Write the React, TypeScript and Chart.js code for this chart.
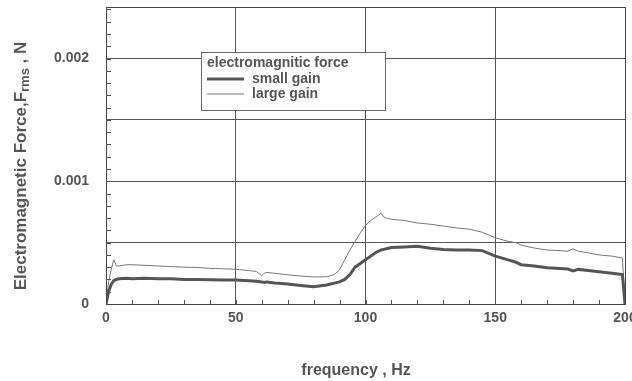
import React, { useEffect, useRef } from "react";
import { Chart, registerables } from "chart.js";

Chart.register(...registerables);

const FREQ = [0, 1, 2, 3, 4, 5, 8, 10, 15, 20, 25, 30, 35, 40, 45, 50, 55, 58, 60, 61, 62, 65, 70, 75, 80, 85, 88, 90, 92, 94, 96, 98, 100, 102, 104, 106, 107, 108, 110, 115, 120, 125, 130, 135, 140, 145, 150, 155, 158, 160, 165, 170, 175, 178, 180, 182, 185, 190, 195, 199, 200];

const SMALL_GAIN = [0, 0.0001, 0.00016, 0.00019, 0.0002, 0.000205, 0.00021, 0.000205, 0.00021, 0.000205, 0.000205, 0.0002, 0.0002, 0.000198, 0.000195, 0.000195, 0.00019, 0.000185, 0.00018, 0.000175, 0.00018, 0.000172, 0.000162, 0.00015, 0.00014, 0.000155, 0.00017, 0.00018, 0.0002, 0.00024, 0.0003, 0.00033, 0.00036, 0.00039, 0.00042, 0.00044, 0.000445, 0.00045, 0.00046, 0.000465, 0.00047, 0.000455, 0.000445, 0.00044, 0.00044, 0.000435, 0.00039, 0.00036, 0.00034, 0.00032, 0.00031, 0.000295, 0.00029, 0.000285, 0.00027, 0.000282, 0.000275, 0.000262, 0.00025, 0.00024, 0];

const LARGE_GAIN = [0, 0.00018, 0.00028, 0.00036, 0.00031, 0.00031, 0.00032, 0.00032, 0.000315, 0.00031, 0.000305, 0.0003, 0.000298, 0.00029, 0.000287, 0.000283, 0.000272, 0.000265, 0.00023, 0.00025, 0.000257, 0.00025, 0.000238, 0.000228, 0.00022, 0.000222, 0.00024, 0.00028, 0.00036, 0.00044, 0.00051, 0.00058, 0.00064, 0.00068, 0.00071, 0.00074, 0.00071, 0.0007, 0.00069, 0.00068, 0.00066, 0.00065, 0.000635, 0.00062, 0.00061, 0.000585, 0.00054, 0.00051, 0.0005, 0.00048, 0.000456, 0.00044, 0.000435, 0.00043, 0.00045, 0.00043, 0.00042, 0.0004, 0.00039, 0.000375, 0];

const X_TICK_LABELS = [0, 50, 100, 150, 200];
const Y_TICK_LABELS = [0, 0.001, 0.002];
const SERIES_NAMES = ["small gain", "large gain"];
const LEGEND_TITLE = "electromagnitic force";
const X_TITLE = "frequency , Hz";
const Y_TITLE_PARTS = ["Electromagnetic Force,F", "rms", " , N"];

const TEXT = "#555";
const FONT = "'Liberation Sans', Arial, sans-serif";

const near = (a: number, b: number) => Math.abs(a - b) < 1e-9;

const decorPlugin = {
  id: "decor",
  afterDraw(chart: any) {
    const { ctx, chartArea } = chart;
    const { left, right, top, bottom } = chartArea;
    const xs = chart.scales.x;
    const ys = chart.scales.y;
    ctx.save();
    // frame
    ctx.strokeStyle = "#444";
    ctx.lineWidth = 1;
    ctx.strokeRect(Math.round(left) + 0.5, Math.round(top) + 0.5, Math.round(right - left), Math.round(bottom - top));
    // minor ticks
    ctx.strokeStyle = "#555";
    ctx.beginPath();
    for (let f = 10; f < 200; f += 10) {
      const px = Math.round(xs.getPixelForValue(f)) + 0.5;
      ctx.moveTo(px, bottom);
      ctx.lineTo(px, bottom - 4);
    }
    for (let i = 1; i < 25; i++) {
      const py = Math.round(ys.getPixelForValue(i * 0.0001)) + 0.5;
      if (py < top) continue;
      ctx.moveTo(left, py);
      ctx.lineTo(left + 5, py);
    }
    ctx.stroke();

    // legend
    const bx = 201, by = 52, bw = 184, bh = 58;
    ctx.fillStyle = "#fff";
    ctx.fillRect(bx, by, bw, bh);
    ctx.strokeStyle = "#666";
    ctx.lineWidth = 1;
    ctx.strokeRect(bx + 0.5, by + 0.5, bw, bh);
    ctx.fillStyle = TEXT;
    ctx.font = `bold 14px ${FONT}`;
    ctx.textBaseline = "middle";
    ctx.textAlign = "left";
    ctx.fillText(LEGEND_TITLE, 207, 63);
    const ds = chart.data.datasets;
    const rows = [79, 94];
    ds.forEach((d: any, i: number) => {
      ctx.strokeStyle = d.borderColor;
      ctx.lineWidth = d.borderWidth;
      ctx.beginPath();
      ctx.moveTo(207, rows[i]);
      ctx.lineTo(244, rows[i]);
      ctx.stroke();
      ctx.fillText(d.label, 252, rows[i]);
    });

    // y title with subscript
    ctx.save();
    ctx.translate(0, 166);
    ctx.rotate(-Math.PI / 2);
    const big = `bold 17px ${FONT}`;
    const small = `bold 13px ${FONT}`;
    const [p1, p2, p3] = Y_TITLE_PARTS;
    ctx.font = big;
    const w1 = ctx.measureText(p1).width;
    const w3 = ctx.measureText(p3).width;
    ctx.font = small;
    const w2 = ctx.measureText(p2).width;
    const total = w1 + w2 + w3;
    let x0 = -total / 2;
    ctx.fillStyle = TEXT;
    ctx.textAlign = "left";
    ctx.textBaseline = "alphabetic";
    ctx.font = big;
    ctx.fillText(p1, x0, 26);
    x0 += w1;
    ctx.font = small;
    ctx.fillText(p2, x0, 29);
    x0 += w2;
    ctx.font = big;
    ctx.fillText(p3, x0, 26);
    ctx.restore();

    // x title
    ctx.font = `bold 16px ${FONT}`;
    ctx.fillStyle = TEXT;
    ctx.textAlign = "center";
    ctx.textBaseline = "alphabetic";
    ctx.fillText(X_TITLE, 356, 375);
    ctx.restore();
  },
};

const zeroPad = (s: any) => {
  s.paddingLeft = 0;
  s.paddingRight = 0;
  s.paddingTop = 0;
  s.paddingBottom = 0;
};

export default function App() {
  const ref = useRef<HTMLCanvasElement | null>(null);
  useEffect(() => {
    document.body.style.margin = "0";
    const canvas = ref.current!;
    const chart = new Chart(canvas, {
      type: "line",
      data: {
        datasets: [
          {
            label: SERIES_NAMES[0],
            data: FREQ.map((f, i) => ({ x: f, y: SMALL_GAIN[i] })),
            borderColor: "#555",
            borderWidth: 3,
            pointRadius: 0,
            tension: 0,
          },
          {
            label: SERIES_NAMES[1],
            data: FREQ.map((f, i) => ({ x: f, y: LARGE_GAIN[i] })),
            borderColor: "#777",
            borderWidth: 1,
            pointRadius: 0,
            tension: 0,
          },
        ],
      },
      options: {
        animation: false,
        responsive: false,
        events: [],
        layout: { padding: { left: 0, right: 7, top: 7, bottom: 0 } },
        plugins: { legend: { display: false }, tooltip: { enabled: false } },
        scales: {
          x: {
            type: "linear",
            min: 0,
            max: 200,
            border: { display: false },
            ticks: {
              stepSize: 10,
              autoSkip: false,
              maxRotation: 0,
              padding: 6,
              color: TEXT,
              font: { family: FONT, size: 14, weight: "bold" },
              callback: (v: any) => (X_TICK_LABELS.some((t) => near(t, Number(v))) ? String(v) : ""),
            },
            grid: {
              drawTicks: false,
              color: (c: any) => (X_TICK_LABELS.some((t) => near(t, c.tick?.value)) ? "#555" : "rgba(0,0,0,0)"),
            },
            afterFit: (s: any) => {
              s.height = 77;
              zeroPad(s);
            },
          },
          y: {
            type: "linear",
            min: 0,
            max: 0.00242,
            border: { display: false },
            ticks: {
              stepSize: 0.0001,
              autoSkip: false,
              padding: 17,
              color: TEXT,
              font: { family: FONT, size: 14, weight: "bold" },
              callback: (v: any) => {
                const t = Y_TICK_LABELS.find((y) => near(y, Number(v)));
                return t === undefined ? "" : t === 0 ? "0" : t.toFixed(3);
              },
            },
            grid: {
              drawTicks: false,
              color: (c: any) => {
                const v = c.tick?.value ?? 0;
                const r = v / 0.0005;
                return Math.abs(r - Math.round(r)) < 1e-6 ? "#555" : "rgba(0,0,0,0)";
              },
            },
            afterFit: (s: any) => {
              s.width = 106;
              zeroPad(s);
            },
          },
        },
      } as any,
      plugins: [decorPlugin],
    });
    return () => chart.destroy();
  }, []);
  return (
    <div style={{ position: "fixed", left: 0, top: 0, width: 632, height: 381, background: "#fff" }}>
      <canvas ref={ref} width={632} height={381} style={{ display: "block" }} />
    </div>
  );
}
